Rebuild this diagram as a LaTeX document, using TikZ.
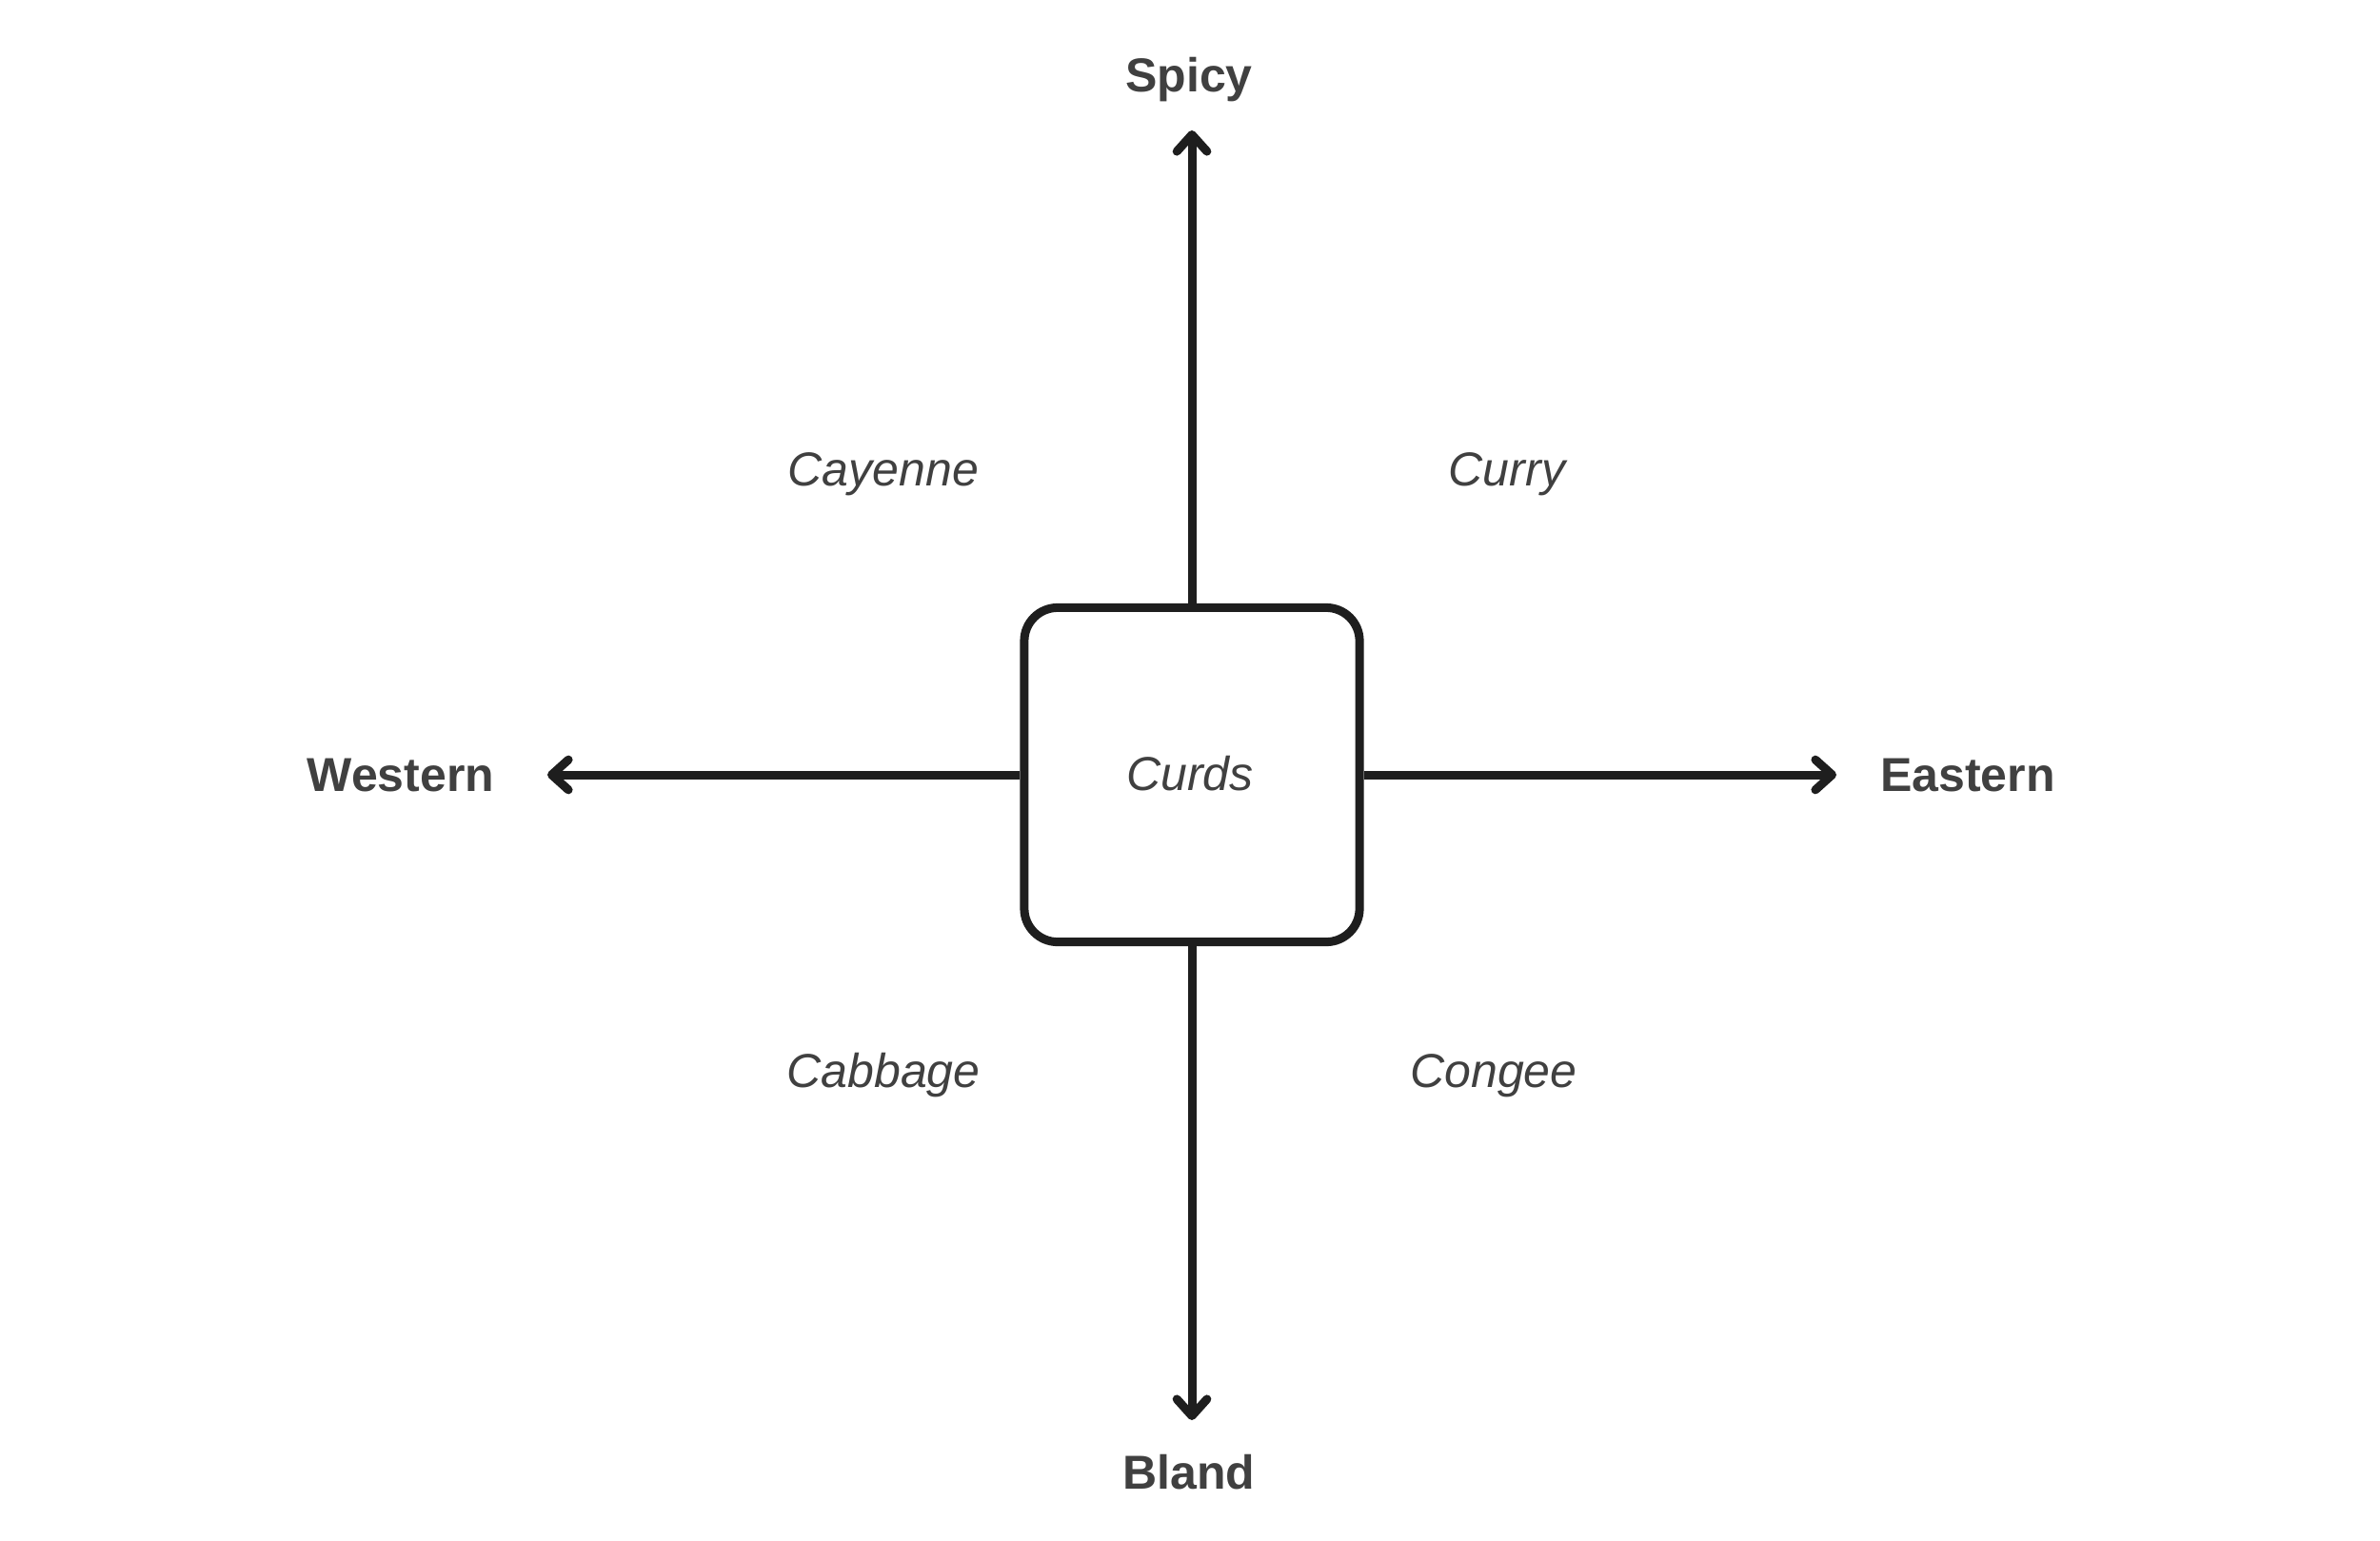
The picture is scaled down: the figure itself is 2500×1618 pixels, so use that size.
\documentclass[tikz,border=0pt]{standalone}
\usepackage{fontspec}
\setmainfont{Liberation Sans}
\usetikzlibrary{arrows.meta}
\definecolor{linec}{HTML}{1E1E1E}
\definecolor{textc}{HTML}{404040}
\begin{document}
\begin{tikzpicture}[x=0.01cm,y=-0.01cm,
  axislbl/.style={font=\fontsize{14.23pt}{17pt}\selectfont\bfseries, text=textc, anchor=base, inner sep=0pt},
  quadlbl/.style={font=\fontsize{14.23pt}{17pt}\selectfont\itshape, text=textc, anchor=base, inner sep=0pt},
  centerbox/.style={draw=linec, line width=0.09cm, rounded corners=0.35cm, minimum width=3.52cm, minimum height=3.51cm, inner sep=0pt, font=\fontsize{14.23pt}{17pt}\selectfont\itshape, text=textc},
  axisline/.style={draw=linec, line width=0.09cm, -{Straight Barb[length=5pt,width=9pt,line join=round,line cap=round]}}
]
\useasboundingbox (0,0) rectangle (2500,1618);
\node[centerbox] (box) at (1252,814) {};
\node[quadlbl] (curds) at (1250,830) {Curds};
\coordinate (ntip) at (1252,137);
\coordinate (stip) at (1252,1492);
\coordinate (wtip) at (575,814);
\coordinate (etip) at (1929,814);
\draw[axisline] (box.north) -- (ntip);
\draw[axisline] (box.south) -- (stip);
\draw[axisline] (box.west) -- (wtip);
\draw[axisline] (box.east) -- (etip);
\node[axislbl] (spicy) at (1249,97) {Spicy};
\node[axislbl] (bland) at (1249,1564) {Bland};
\node[axislbl] (western) at (421,831) {Western};
\node[axislbl] (eastern) at (2067,831) {Eastern};
\node[quadlbl] (cayenne) at (928,510) {Cayenne};
\node[quadlbl] (curry) at (1583,510) {Curry};
\node[quadlbl] (cabbage) at (928,1142) {Cabbage};
\node[quadlbl] (congee) at (1569,1142) {Congee};
\end{tikzpicture}
\end{document}
